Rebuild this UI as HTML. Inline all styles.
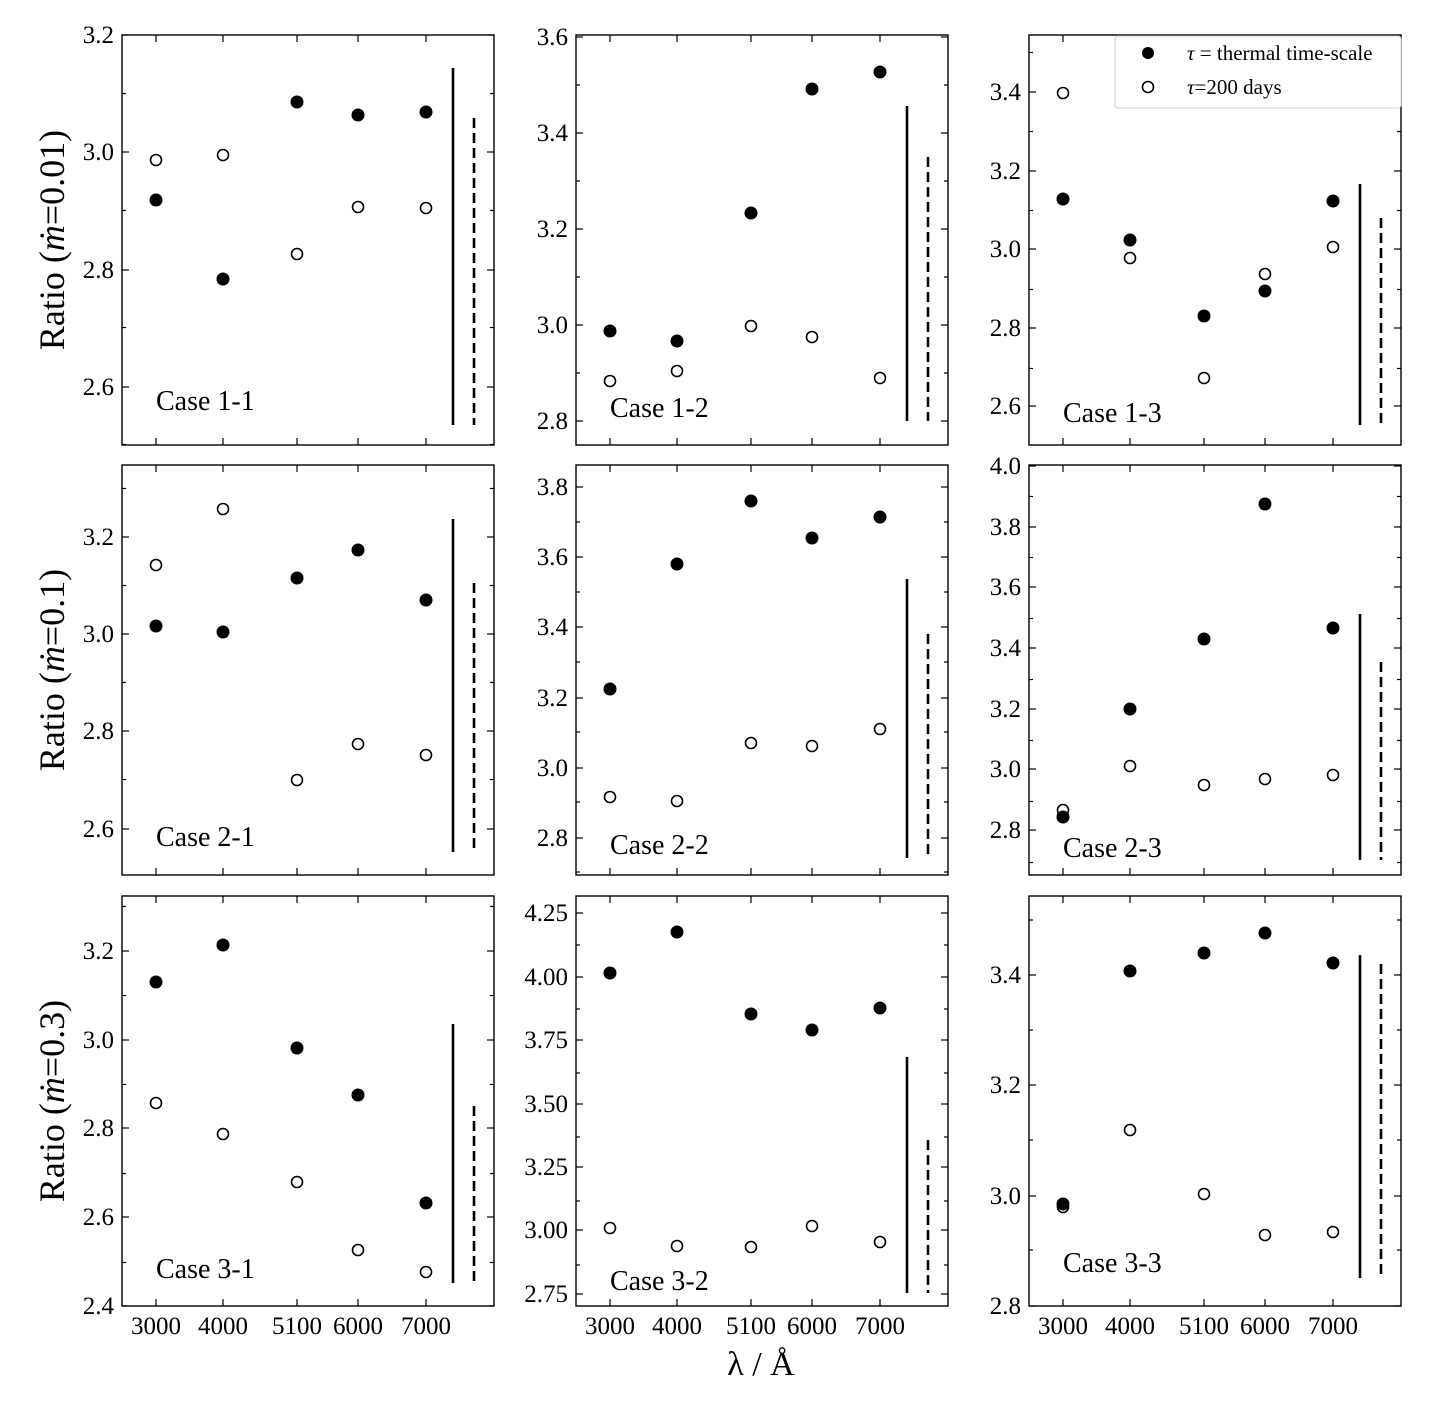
<!DOCTYPE html>
<html><head><meta charset="utf-8"><style>
html,body{margin:0;padding:0;background:#fff}
svg{display:block;font-family:"Liberation Serif","Times New Roman",serif}
text{font-family:"Liberation Serif","Times New Roman",serif;fill:#000}
.t{font-size:25px;text-anchor:end}
.x{font-size:25px;text-anchor:middle}
.c{font-size:28px}
</style></head><body>
<svg id="s" width="1430" height="1402" viewBox="0 0 1430 1402" xmlns="http://www.w3.org/2000/svg" font-family="Liberation Serif, serif">
<g id="g"></g>
<text class="t" x="114" y="43">3.2</text><text class="t" x="114" y="160">3.0</text><text class="t" x="114" y="278">2.8</text><text class="t" x="114" y="395">2.6</text>
<text class="t" x="568" y="45">3.6</text><text class="t" x="568" y="141">3.4</text><text class="t" x="568" y="237">3.2</text><text class="t" x="568" y="333">3.0</text><text class="t" x="568" y="429">2.8</text>
<text class="t" x="1021" y="100">3.4</text><text class="t" x="1021" y="179">3.2</text><text class="t" x="1021" y="257">3.0</text><text class="t" x="1021" y="336">2.8</text><text class="t" x="1021" y="414">2.6</text>
<text class="t" x="114" y="545">3.2</text><text class="t" x="114" y="642">3.0</text><text class="t" x="114" y="739">2.8</text><text class="t" x="114" y="837">2.6</text>
<text class="t" x="568" y="495">3.8</text><text class="t" x="568" y="565">3.6</text><text class="t" x="568" y="635">3.4</text><text class="t" x="568" y="706">3.2</text><text class="t" x="568" y="776">3.0</text><text class="t" x="568" y="846">2.8</text>
<text class="t" x="1021" y="474">4.0</text><text class="t" x="1021" y="535">3.8</text><text class="t" x="1021" y="595">3.6</text><text class="t" x="1021" y="656">3.4</text><text class="t" x="1021" y="717">3.2</text><text class="t" x="1021" y="777">3.0</text><text class="t" x="1021" y="838">2.8</text>
<text class="t" x="114" y="959">3.2</text><text class="t" x="114" y="1048">3.0</text><text class="t" x="114" y="1136">2.8</text><text class="t" x="114" y="1225">2.6</text><text class="t" x="114" y="1314">2.4</text>
<text class="t" x="568" y="921">4.25</text><text class="t" x="568" y="985">4.00</text><text class="t" x="568" y="1048">3.75</text><text class="t" x="568" y="1112">3.50</text><text class="t" x="568" y="1175">3.25</text><text class="t" x="568" y="1238">3.00</text><text class="t" x="568" y="1302">2.75</text>
<text class="t" x="1021" y="983">3.4</text><text class="t" x="1021" y="1093">3.2</text><text class="t" x="1021" y="1204">3.0</text><text class="t" x="1021" y="1314">2.8</text>
<text class="x" x="156" y="1334">3000</text><text class="x" x="223" y="1334">4000</text><text class="x" x="297" y="1334">5100</text><text class="x" x="358" y="1334">6000</text><text class="x" x="426" y="1334">7000</text>
<text class="x" x="610" y="1334">3000</text><text class="x" x="677" y="1334">4000</text><text class="x" x="751" y="1334">5100</text><text class="x" x="812" y="1334">6000</text><text class="x" x="880" y="1334">7000</text>
<text class="x" x="1063" y="1334">3000</text><text class="x" x="1130" y="1334">4000</text><text class="x" x="1204" y="1334">5100</text><text class="x" x="1265" y="1334">6000</text><text class="x" x="1333" y="1334">7000</text>
<text class="c" x="156" y="410">Case 1-1</text><text class="c" x="610" y="417">Case 1-2</text><text class="c" x="1063" y="422">Case 1-3</text>
<text class="c" x="156" y="846">Case 2-1</text><text class="c" x="610" y="854">Case 2-2</text><text class="c" x="1063" y="857">Case 2-3</text>
<text class="c" x="156" y="1278">Case 3-1</text><text class="c" x="610" y="1290">Case 3-2</text><text class="c" x="1063" y="1272">Case 3-3</text>
<text font-size="36" text-anchor="middle" transform="translate(64,240) rotate(-90)">Ratio (<tspan font-style="italic">ṁ</tspan>=0.01)</text>
<text font-size="36" text-anchor="middle" transform="translate(64,670) rotate(-90)">Ratio (<tspan font-style="italic">ṁ</tspan>=0.1)</text>
<text font-size="36" text-anchor="middle" transform="translate(64,1101) rotate(-90)">Ratio (<tspan font-style="italic">ṁ</tspan>=0.3)</text>
<text font-size="34" text-anchor="middle" x="761" y="1375">λ / Å</text>
<rect x="1115" y="36" width="286" height="72" rx="3" fill="#fff" stroke="#ccc" stroke-width="1"/>
<circle cx="1148" cy="53" r="6" fill="#000"/>
<circle cx="1148" cy="87" r="5.5" fill="none" stroke="#000" stroke-width="1.6"/>
<text font-size="21" x="1187" y="60"><tspan font-style="italic">τ</tspan> = thermal time-scale</text>
<text font-size="21" x="1187" y="94"><tspan font-style="italic">τ</tspan>=200 days</text>
</svg>
<script>
const g=document.getElementById('g');const NS='http://www.w3.org/2000/svg';
function el(n,a){const e=document.createElementNS(NS,n);for(const k in a)e.setAttribute(k,a[k]);g.appendChild(e);return e;}
const cols=[122,576,1029],rows=[[35,445],[465,875],[896,1306]];
const xs=[34,101,175,236,304];
const P=[
 [[35,152,270,387],[200,279,102,115,112],[160,155,254,207,208],[68,118]],
 [[37,133,229,325,421],[331,341,213,89,72],[381,371,326,337,378],[106,157]],
 [[92,171,249,328,406],[199,240,316,291,201],[93,258,378,274,247],[184,218]],
 [[537,634,731,829],[626,632,578,550,600],[565,509,780,744,755],[519,583]],
 [[487,557,627,698,768,838],[689,564,501,538,517],[797,801,743,746,729],[579,634]],
 [[466,527,587,648,709,769,830],[817,709,639,504,628],[810,766,785,779,775],[614,662]],
 [[951,1040,1128,1217,1306],[982,945,1048,1095,1203],[1103,1134,1182,1250,1272],[1024,1106]],
 [[913,977,1040,1104,1167,1230,1294],[973,932,1014,1030,1008],[1228,1246,1247,1226,1242],[1057,1140]],
 [[975,1085,1196,1306],[1204,971,953,933,963],[1207,1130,1194,1235,1232],[955,964]]];
P.forEach((p,i)=>{
 const L=cols[i%3],R=L+372,[T,B]=rows[Math.floor(i/3)];
 const maj=p[0],st=maj[1]-maj[0];
 const ln=(x1,y1,x2,y2,w)=>el('line',{x1,y1,x2,y2,stroke:'#000','stroke-width':w||1.2});
 maj.forEach(y=>{if(y>=T-1&&y<=B+1){ln(L,y,L+7,y);ln(R,y,R-7,y);}});
 const mins=[];for(let y=maj[0]-st/2;y>=T;y-=st)mins.push(y);
 for(let y=maj[0]+st/2;y<=B;y+=st)mins.push(y);
 mins.forEach(y=>{ln(L,y,L+4,y);ln(R,y,R-4,y);});
 xs.forEach(dx=>{const x=L+dx;ln(x,B,x,B-7);ln(x,T,x,T+7);});
 p[1].forEach((y,k)=>el('circle',{cx:L+xs[k],cy:y,r:6.5,fill:'#000'}));
 p[2].forEach((y,k)=>el('circle',{cx:L+xs[k],cy:y,r:5.5,fill:'none',stroke:'#000','stroke-width':1.6}));
 const yb=B-(i<3?[20,24,20][i]:0)-(i>=3&&i<6?[23,17,15][i-3]:0)-(i>=6?[23,13,28][i-6]:0);
 el('line',{x1:L+331,y1:p[3][0],x2:L+331,y2:yb,stroke:'#000','stroke-width':2.6});
 el('line',{x1:L+352,y1:p[3][1],x2:L+352,y2:yb,stroke:'#000','stroke-width':2.6,'stroke-dasharray':'10,5'});
 el('rect',{x:L,y:T,width:372,height:B-T,fill:'none',stroke:'#000','stroke-width':1.4});
});
</script>
</body></html>
